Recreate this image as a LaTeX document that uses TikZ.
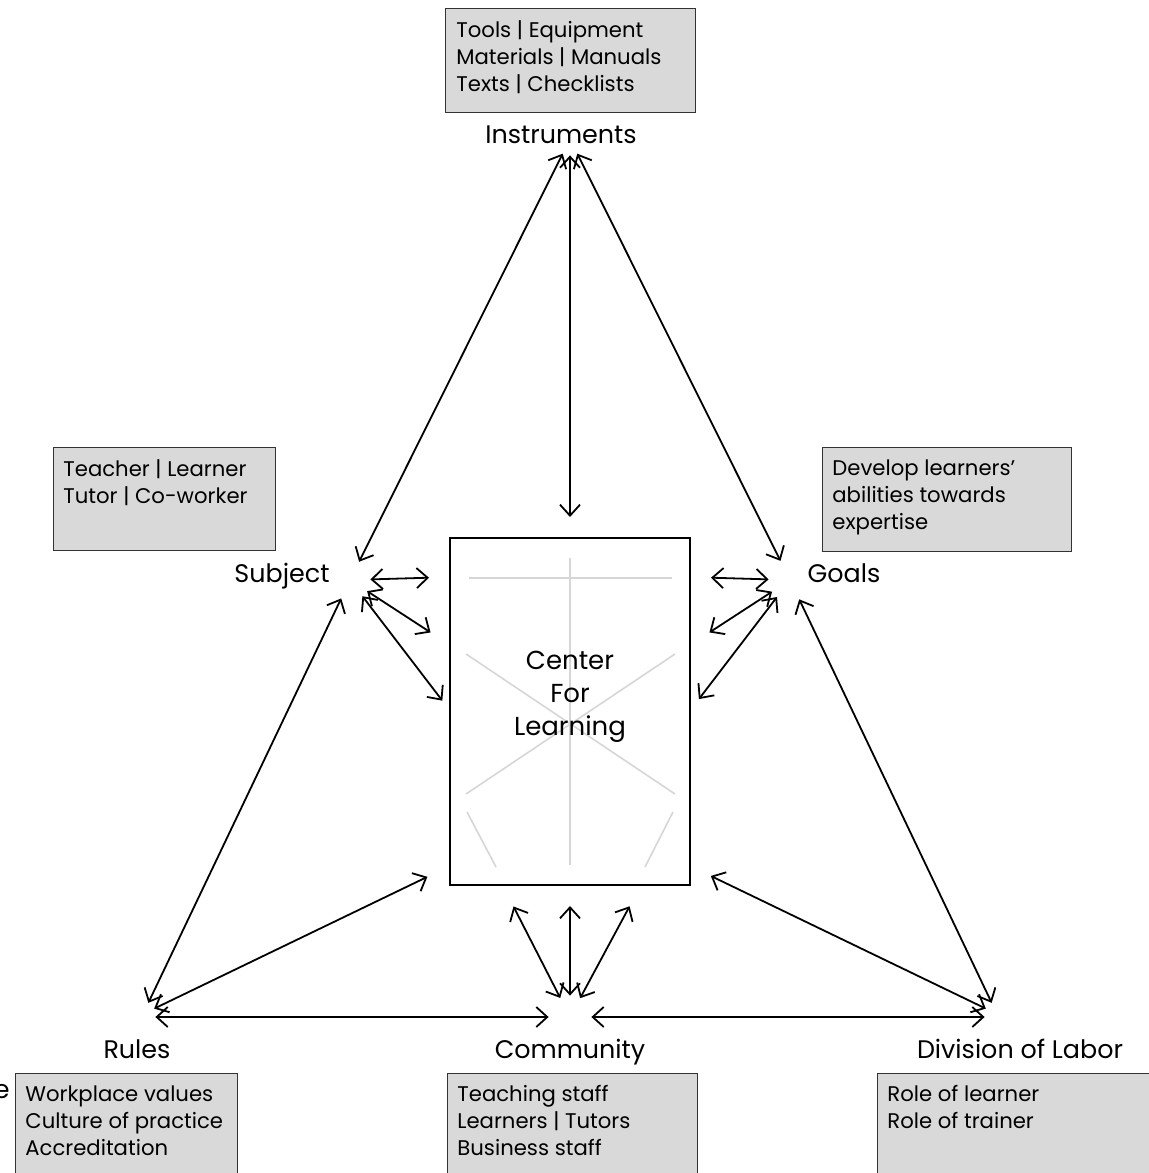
\documentclass[tikz,border=0pt]{standalone}
\usepackage{fontspec}
\setmainfont{Poppins}
\usepackage{tikz}
\usetikzlibrary{arrows.meta}
\usetikzlibrary{positioning}
\definecolor{boxgray}{rgb}{0.85, 0.85, 0.85}
\definecolor{linegray}{rgb}{0.84, 0.84, 0.84}
\definecolor{edgegray}{rgb}{0.2, 0.2, 0.2}
\tikzset{dbl/.style = {<->, >={Straight Barb[length=5.5pt, width=10pt]}, line width=0.9pt},
         hub/.style = {circle, inner sep=0pt},
         infobox/.style = {draw=edgegray, fill=boxgray, line width=0.7pt, anchor=north west, inner sep=0pt},
         infotext/.style = {anchor=north west, inner sep=0pt, align=left, font=\fontsize{10.6}{13.5}\selectfont},
         tag/.style = {anchor=base, inner sep=0pt, font=\fontsize{12.7}{15}\selectfont}}

\begin{document}
\begin{tikzpicture}[x=0.5pt, y=-0.5pt]
    \useasboundingbox (0,0) rectangle (1149,1173);

    \node [draw, line width=1pt, minimum width=120pt, minimum height=173.5pt, inner sep=0pt] (cfl) at (570,711.5) {};
    \draw [linegray, line width=0.8pt] (469,578) -- (672,578);
    \draw [linegray, line width=0.8pt] (570,558) -- (570,865);
    \draw [linegray, line width=0.8pt] (466,654) -- (675,794);
    \draw [linegray, line width=0.8pt] (675,654) -- (466,794);
    \draw [linegray, line width=0.8pt] (467,812) -- (496,867);
    \draw [linegray, line width=0.8pt] (673,812) -- (645,867);
    \node [align=center, font=\fontsize{13}{16.5}\selectfont] (cfltxt) at (570,697) {Center\\For\\Learning};

    \node [infobox, minimum width=125pt, minimum height=52pt] (instrbox) at (445,8) {};
    \node [infotext] (instrtxt) at ([shift={(11,12)}]instrbox.north west) {Tools | Equipment\\Materials | Manuals\\Texts | Checklists};
    \node [infobox, minimum width=111pt, minimum height=51.5pt] (subjbox) at (53,447) {};
    \node [infotext] (subjtxt) at ([shift={(10,12)}]subjbox.north west) {Teacher | Learner\\Tutor | Co-worker};
    \node [infobox, minimum width=124.5pt, minimum height=52pt] (goalsbox) at (822,447) {};
    \node [infotext] (goalstxt) at ([shift={(10,12)}]goalsbox.north west) {Develop learners’\\abilities towards\\expertise};
    \node [infobox, minimum width=111pt, minimum height=60pt] (rulesbox) at (15,1073) {};
    \node [infotext] (rulestxt) at ([shift={(10,12)}]rulesbox.north west) {Workplace values\\Culture of practice\\Accreditation};
    \node [infobox, minimum width=125pt, minimum height=60pt] (commbox) at (447,1073) {};
    \node [infotext] (commtxt) at ([shift={(10,12)}]commbox.north west) {Teaching staff\\Learners | Tutors\\Business staff};
    \node [infobox, minimum width=150pt, minimum height=60pt] (divbox) at (877,1073) {};
    \node [infotext] (divtxt) at ([shift={(10,12)}]divbox.north west) {Role of learner\\Role of trainer};

    \node [tag] (instr) at (561,143) {Instruments};
    \node [tag] (subj) at (282,582) {Subject};
    \node [tag] (goals) at (844,582) {Goals};
    \node [tag] (rules) at (137,1058) {Rules};
    \node [tag] (comm) at (570,1058) {Community};
    \node [tag] (divl) at (1020,1058) {Division of Labor};
    \node [tag, anchor=base east] (cut) at (10,1098) {e};

    \node [hub, minimum size=16pt] (instrP) at (570,139) {};
    \node [hub, minimum size=20pt] (subjP) at (350,580) {};
    \node [hub, minimum size=21pt] (goalsP) at (790,580) {};
    \node [hub, minimum size=12pt] (rulesP) at (143,1014) {};
    \node [hub, minimum size=21pt] (commP) at (570,1017) {};
    \node [hub, minimum size=12pt] (divP) at (997,1014) {};

    \draw [dbl] (instrP) -- (subjP);
    \draw [dbl] (instrP) -- (goalsP);
    \draw [dbl, shorten >=10pt] (instrP) -- (cfl.north);
    \draw [dbl, shorten >=10pt] (subjP) -- (cfl.132);
    \draw [dbl, shorten >=11pt] (subjP) -- (cfl.151);
    \draw [dbl, shorten >=5.5pt] (subjP) -- (cfl.179);
    \draw [dbl] (subjP) -- (rulesP);
    \draw [dbl, shorten >=10pt] (goalsP) -- (cfl.48);
    \draw [dbl, shorten >=11pt] (goalsP) -- (cfl.29);
    \draw [dbl, shorten >=6.5pt] (goalsP) -- (cfl.1);
    \draw [dbl] (goalsP) -- (divP);
    \draw [dbl, shorten >=12pt] (rulesP) -- (cfl.232);
    \draw [dbl, shorten >=11pt] (divP) -- (cfl.308);
    \draw [dbl] (rulesP.east |- commP) -- (commP);
    \draw [dbl] (commP) -- (divP.west |- commP);
    \draw [dbl, shorten >=11.5pt] (commP) -- (cfl.249);
    \draw [dbl, shorten >=10pt] (commP) -- (cfl.south);
    \draw [dbl, shorten >=11.5pt] (commP) -- (cfl.292);
\end{tikzpicture}
\end{document}
